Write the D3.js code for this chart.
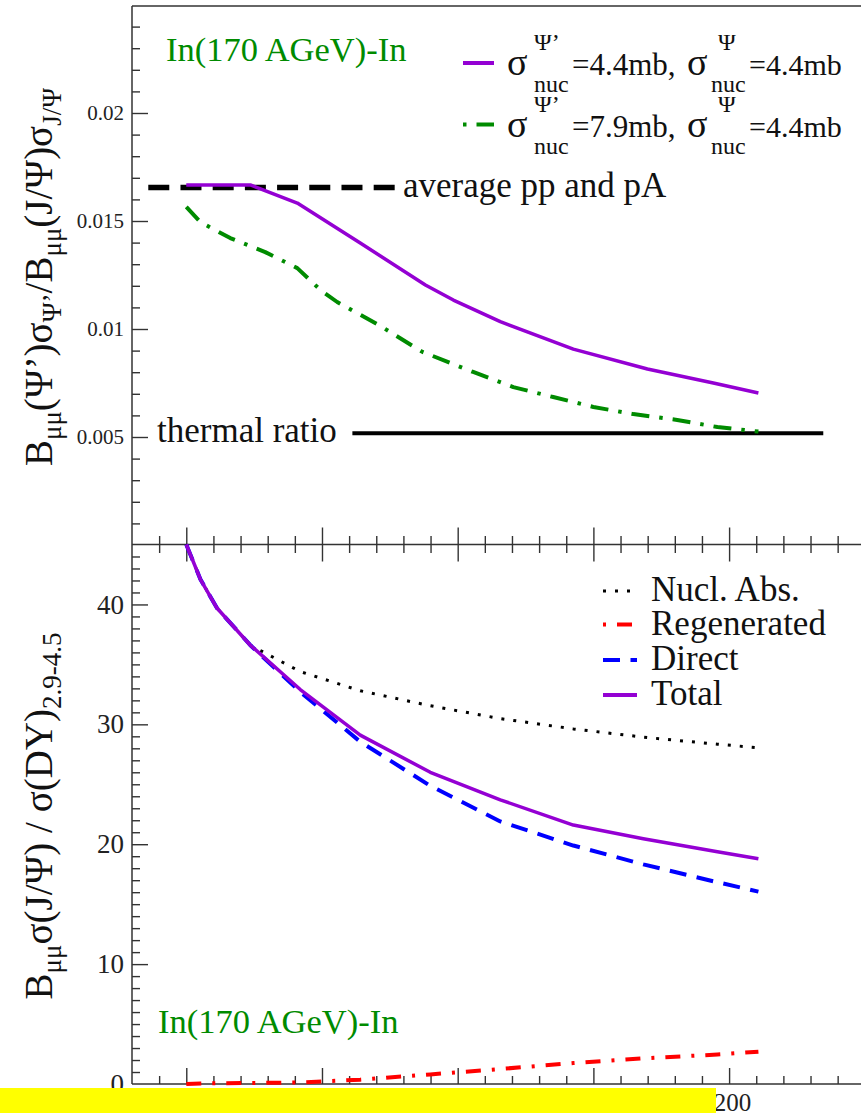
<!DOCTYPE html>
<html><head><meta charset="utf-8">
<script src="https://cdn.jsdelivr.net/npm/d3@7"></script>
<style>
html,body{margin:0;padding:0;background:#fff;}
svg{display:block;}
text{font-family:"Liberation Serif","Times New Roman",serif;}
text.banner{font-family:"DejaVu Sans",sans-serif;}
</style>
</head><body>
<svg id="c" width="861" height="1113"></svg>
<script>
// ---------- data ----------
// top panel: ratio psi'/psi vs x
const topPurpleX = [0, 23.6, 40.9, 64.1, 88.1, 98.4, 115.7, 142.6, 169.9, 194.2, 210.8];
const topPurpleY = [0.01667, 0.01667, 0.01583, 0.01398, 0.01204, 0.01134, 0.01034, 0.00907, 0.00815, 0.0075, 0.00704];
const topGreenX = [0, 5.2, 16.2, 29.1, 40.9, 49.4, 55.6, 71.5, 87.0, 105.7, 120.5, 135.2, 150.0, 164.7, 180.9, 195.7, 210.8];
const topGreenY = [0.01565, 0.01495, 0.01421, 0.01356, 0.01282, 0.01181, 0.01125, 0.01014, 0.00894, 0.00801, 0.00731, 0.00685, 0.00639, 0.00606, 0.00579, 0.00546, 0.00525];
const avgRefX = [-14, 77];
const avgRefY = [0.01655, 0.01655];
const thermalX = [61.2, 234.7];
const thermalY = [0.00517, 0.00517];
// bottom panel: J/psi over DY
const botX       = [0, 2.7, 5.2, 11.3, 23.6, 42.0, 64.1, 89.9, 115.7, 142.6, 168.4, 195.7, 210.8];
const botTotal   = [45.0, 43.5, 42.1, 39.7, 36.6, 32.9, 29.1, 26.0, 23.7, 21.6, 20.45, 19.37, 18.78];
const botDirect  = [45.0, 43.5, 42.1, 39.7, 36.6, 32.7, 28.55, 24.87, 21.9, 19.89, 18.32, 16.83, 16.05];
const botRegen   = [0, 0.02, 0.04, 0.06, 0.08, 0.13, 0.36, 0.8, 1.25, 1.75, 2.14, 2.46, 2.70];
const botNucl    = [45.0, 43.5, 42.1, 39.7, 36.6, 34.4, 32.8, 31.55, 30.48, 29.62, 28.93, 28.34, 28.05];
// ticks
const xMajor = [0, 50, 100, 150, 200, 250];
const xLabelVals = [0, 50, 100, 150, 200];
const xLabelText = ["0", "50", "100", "150", "200"];
const topYMajor = [0.005, 0.01, 0.015, 0.02];
const topYLabels = ["0.005", "0.01", "0.015", "0.02"];
const botYMajor = [0, 10, 20, 30, 40];
const botYLabels = ["0", "10", "20", "30", "40"];
const botLegendLabels = ["Nucl. Abs.", "Regenerated", "Direct", "Total"];
const topLegendPsiP = ["4.4", "7.9"];
const topLegendPsi = ["4.4", "4.4"];

// ---------- setup ----------
const svg = d3.select("#c");
const PURPLE = "#9400D3", GREEN = "#008B00", RED = "#FF0000", BLUE = "#0000FF";
const AX = "#333";
const x = d3.scaleLinear().domain([-20, 250]).range([132, 864.8]);
const yT = d3.scaleLinear().domain([0, 0.025]).range([545, 5]);
const yB = d3.scaleLinear().domain([0, 45]).range([1084, 544.5]);

const xMinor = d3.range(-10, 261, 10).filter(v => v % 50 !== 0);
const topYMinor = d3.range(1, 25).map(v => v / 1000).filter((v, i) => (i + 1) % 5 !== 0);
const botYMinor = d3.range(1, 45).filter(v => v % 10 !== 0);

function styleAxis(g) {
  g.select(".domain").remove();
  g.attr("font-family", null);
  g.selectAll(".tick line").attr("stroke", AX).attr("stroke-width", 1.4);
}
// frame lines
const frame = svg.append("g").attr("stroke", AX).attr("stroke-width", 1.5);
frame.append("line").attr("x1", 132).attr("x2", 861).attr("y1", 6).attr("y2", 6);
frame.append("line").attr("x1", 132).attr("x2", 132).attr("y1", 6).attr("y2", yB(0));
frame.append("line").attr("x1", 132).attr("x2", 861).attr("y1", yB(45)).attr("y2", yB(45));
frame.append("line").attr("x1", 132).attr("x2", 861).attr("y1", yB(0)).attr("y2", yB(0));

// left ticks
svg.append("g").attr("transform", "translate(132,0)")
  .call(d3.axisRight(yT).tickValues(topYMinor).tickSize(8).tickFormat("")).call(styleAxis);
svg.append("g").attr("transform", "translate(132,0)")
  .call(d3.axisRight(yT).tickValues(topYMajor).tickSize(16).tickFormat("")).call(styleAxis);
svg.append("g").attr("transform", "translate(132,0)")
  .call(d3.axisRight(yB).tickValues(botYMinor).tickSize(8).tickFormat("")).call(styleAxis);
svg.append("g").attr("transform", "translate(132,0)")
  .call(d3.axisRight(yB).tickValues(botYMajor.filter(v => v > 0)).tickSize(16).tickFormat("")).call(styleAxis);
// left labels
const tl = svg.append("g").attr("transform", "translate(132,0)")
  .call(d3.axisLeft(yT).tickValues(topYMajor).tickSize(0).tickPadding(8).tickFormat((d, i) => topYLabels[i])).call(styleAxis);
tl.selectAll("text").attr("font-size", 21).attr("fill", "#222");
const bl = svg.append("g").attr("transform", "translate(132,0)")
  .call(d3.axisLeft(yB).tickValues(botYMajor).tickSize(0).tickPadding(8).tickFormat((d, i) => botYLabels[i])).call(styleAxis);
bl.selectAll("text").attr("font-size", 27).attr("fill", "#222");

// middle x axis (ticks both ways)
const ym = yB(45);
svg.append("g").attr("transform", `translate(0,${ym})`)
  .call(d3.axisTop(x).tickValues(xMinor).tickSize(8.5).tickFormat("")).call(styleAxis);
svg.append("g").attr("transform", `translate(0,${ym})`)
  .call(d3.axisBottom(x).tickValues(xMinor).tickSize(8.5).tickFormat("")).call(styleAxis);
svg.append("g").attr("transform", `translate(0,${ym})`)
  .call(d3.axisTop(x).tickValues(xMajor).tickSize(17).tickFormat("")).call(styleAxis);
svg.append("g").attr("transform", `translate(0,${ym})`)
  .call(d3.axisBottom(x).tickValues(xMajor).tickSize(17).tickFormat("")).call(styleAxis);
// bottom x axis
svg.append("g").attr("transform", `translate(0,${yB(0)})`)
  .call(d3.axisTop(x).tickValues(xMinor).tickSize(8).tickFormat("")).call(styleAxis);
svg.append("g").attr("transform", `translate(0,${yB(0)})`)
  .call(d3.axisTop(x).tickValues(xMajor).tickSize(16).tickFormat("")).call(styleAxis);
const xl = svg.append("g").attr("transform", `translate(0,${yB(0)})`)
  .call(d3.axisBottom(x).tickValues(xLabelVals).tickSize(0).tickPadding(9).tickFormat((d, i) => xLabelText[i])).call(styleAxis);
xl.selectAll("text").attr("font-size", 25).attr("fill", "#222").attr("dx", 3);

// ---------- series ----------
function drawLine(xs, ys, yScale, color, width, dash) {
  const pts = xs.map((v, i) => [v, ys[i]]);
  const p = svg.append("path").datum(pts)
    .attr("d", d3.line().x(d => x(d[0])).y(d => yScale(d[1])))
    .attr("fill", "none").attr("stroke", color).attr("stroke-width", width)
    .attr("stroke-linejoin", "round");
  if (dash) p.attr("stroke-dasharray", dash);
  return p;
}
const DASH_GREEN = "18,10,3.5,10";
const DASH_RED = "15,11,3,11";
const DASH_BLUE = "17,10.5";
const DASH_DOT = "3,9";
const DASH_AVG = "21,11.2";

// top panel
drawLine(thermalX, thermalY, yT, "#000", 4, null);
drawLine(avgRefX, avgRefY, yT, "#000", 5.5, DASH_AVG);
drawLine(topGreenX, topGreenY, yT, GREEN, 4, DASH_GREEN);
drawLine(topPurpleX, topPurpleY, yT, PURPLE, 3.5, null);

// bottom panel
drawLine(botX, botNucl, yB, "#000", 3, DASH_DOT);
drawLine(botX, botRegen, yB, RED, 4, DASH_RED);
drawLine(botX, botDirect, yB, BLUE, 4, DASH_BLUE);
drawLine(botX, botTotal, yB, PURPLE, 3.5, null);

// ---------- annotations ----------
svg.append("text").attr("x", 166).attr("y", 61).attr("font-size", 34.5).attr("fill", GREEN).text("In(170 AGeV)-In");
svg.append("text").attr("x", 158).attr("y", 1033).attr("font-size", 34.5).attr("fill", GREEN).text("In(170 AGeV)-In");
svg.append("text").attr("x", 403).attr("y", 197).attr("font-size", 35).attr("fill", "#111").text("average pp and pA");
svg.append("text").attr("x", 157).attr("y", 442).attr("font-size", 35).attr("fill", "#111").text("thermal ratio");

// top legend
const legRows = [
  {y: 75, color: PURPLE, dash: null, off: 0},
  {y: 136.5, color: GREEN, dash: DASH_GREEN, off: 28}
];
legRows.forEach((r, i) => {
  const ln = svg.append("line").attr("x1", 463).attr("x2", 494).attr("y1", r.y - 12).attr("y2", r.y - 12)
    .attr("stroke", r.color).attr("stroke-width", 4);
  if (r.dash) ln.attr("stroke-dasharray", r.dash).attr("stroke-dashoffset", r.off);
  const g = svg.append("g").attr("fill", "#111");
  g.append("text").attr("x", 507).attr("y", r.y).attr("font-size", 38).text("σ");
  g.append("text").attr("x", 534).attr("y", r.y - 25).attr("font-size", 24).text("Ψ’");
  g.append("text").attr("x", 534).attr("y", r.y + 17).attr("font-size", 24).text("nuc");
  g.append("text").attr("x", 572).attr("y", r.y).attr("font-size", 31).text("=" + topLegendPsiP[i] + "mb,");
  g.append("text").attr("x", 687).attr("y", r.y).attr("font-size", 38).text("σ");
  g.append("text").attr("x", 718).attr("y", r.y - 25).attr("font-size", 24).text("Ψ");
  g.append("text").attr("x", 711).attr("y", r.y + 17).attr("font-size", 24).text("nuc");
  g.append("text").attr("x", 749).attr("y", r.y).attr("font-size", 30).text("=" + topLegendPsi[i] + "mb");
});

// bottom legend
const botLeg = [
  {color: "#000", dash: DASH_DOT, w: 3, off: 0},
  {color: RED, dash: DASH_RED, w: 4, off: 26},
  {color: BLUE, dash: DASH_BLUE, w: 4, off: 0},
  {color: PURPLE, dash: null, w: 4, off: 0}
];
const botLegBase = [601, 634.5, 670, 705];
botLeg.forEach((r, i) => {
  const yy = botLegBase[i] - 10;
  const ln = svg.append("line").attr("x1", 603).attr("x2", 637).attr("y1", yy).attr("y2", yy)
    .attr("stroke", r.color).attr("stroke-width", r.w);
  if (r.dash) ln.attr("stroke-dasharray", r.dash).attr("stroke-dashoffset", r.off);
  svg.append("text").attr("x", 651).attr("y", botLegBase[i]).attr("font-size", 35).attr("fill", "#111").text(botLegendLabels[i]);
});

// rotated axis titles
function richLabel(cx, cy, parts) {
  const t = svg.append("text").attr("transform", `translate(${cx},${cy}) rotate(-90)`)
    .attr("text-anchor", "middle").attr("font-size", 39).attr("fill", "#111");
  let inSub = false;
  parts.forEach(([s, sub]) => {
    const ts = t.append("tspan").text(s);
    if (sub && !inSub) { ts.attr("dy", 9).attr("font-size", 27); inSub = true; }
    else if (sub) { ts.attr("font-size", 27); }
    else if (!sub && inSub) { ts.attr("dy", -9); inSub = false; }
  });
}
richLabel(52, 277, [["B", false], ["μμ", true], ["(Ψ’)σ", false], ["Ψ’", true], ["/B", false], ["μμ", true], ["(J/Ψ)σ", false], ["J/Ψ", true]]);
richLabel(52, 816, [["B", false], ["μμ", true], ["σ(J/Ψ) / σ(DY)", false], ["2.9-4.5", true]]);

// yellow banner overlay (its red text runs below the picture edge; only tips show)
svg.append("rect").attr("x", 0).attr("y", 1088).attr("width", 716).attr("height", 25).attr("fill", "#ffff00");
svg.append("text").attr("class", "banner").attr("x", 143).attr("y", 1146.5).attr("font-size", 44)
  .attr("font-style", "italic").attr("fill", RED)
  .text("is not shown in this version");
</script>
</body></html>
